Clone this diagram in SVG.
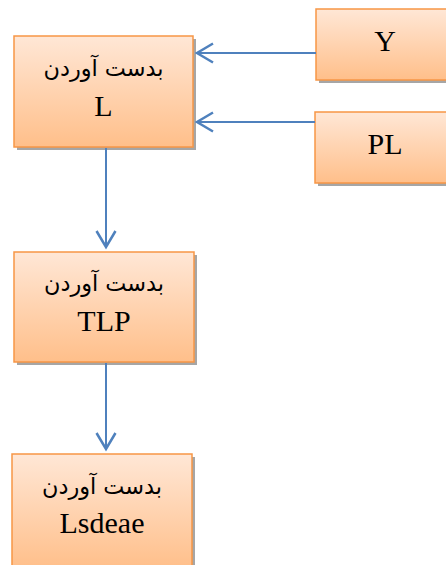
<svg xmlns="http://www.w3.org/2000/svg" width="446" height="565" viewBox="0 0 446 565">
  <style>
    .box { fill: url(#peach); stroke: #F79646; stroke-width: 1.5; }
    .shadow { fill: #A6A6A6; }
    .fa { font-family: "DejaVu Sans", "Noto Sans", sans-serif; font-size: 23px; fill: #000; text-anchor: middle; direction: rtl; }
    .en { font-family: "Liberation Serif", "DejaVu Serif", serif; font-size: 30px; fill: #000; text-anchor: middle; }
    .link { fill: none; stroke: #4F81BD; stroke-width: 2; }
  </style>
  <defs>
    <linearGradient id="peach" x1="0" y1="0" x2="0" y2="1">
      <stop offset="0" stop-color="#FFE7D6"/>
      <stop offset="1" stop-color="#FFBF8A"/>
    </linearGradient>
    <marker id="open" viewBox="0 0 20 22" refX="17.5" refY="11" markerWidth="20" markerHeight="22" markerUnits="userSpaceOnUse" orient="auto">
      <path d="M1.5 1.5 L17.5 11 L1.5 20.5" fill="none" stroke="#4F81BD" stroke-width="2.5"/>
    </marker>
  </defs>

  <g id="node-L">
    <rect class="shadow" x="17" y="39" width="179" height="111"/>
    <rect class="box" x="14" y="36" width="179" height="111"/>
    <text class="fa" x="103.5" y="76" textLength="120" lengthAdjust="spacingAndGlyphs">بدست آوردن</text>
    <text class="en" x="103.5" y="116">L</text>
  </g>

  <g id="node-Y">
    <rect class="shadow" x="319" y="12" width="140" height="71"/>
    <rect class="box" x="316" y="9" width="140" height="71"/>
    <text class="en" x="385" y="51">Y</text>
  </g>

  <g id="node-PL">
    <rect class="shadow" x="318" y="115" width="140" height="71"/>
    <rect class="box" x="315" y="112" width="140" height="71"/>
    <text class="en" x="385" y="154">PL</text>
  </g>

  <g id="node-TLP">
    <rect class="shadow" x="17" y="255" width="180" height="110"/>
    <rect class="box" x="14" y="252" width="180" height="110"/>
    <text class="fa" x="104" y="291" textLength="120" lengthAdjust="spacingAndGlyphs">بدست آوردن</text>
    <text class="en" x="104" y="331">TLP</text>
  </g>

  <g id="node-Lsdeae">
    <rect class="shadow" x="15" y="457" width="180" height="115"/>
    <rect class="box" x="12" y="454" width="180" height="115"/>
    <text class="fa" x="102" y="494" textLength="120" lengthAdjust="spacingAndGlyphs">بدست آوردن</text>
    <text class="en" x="102" y="533">Lsdeae</text>
  </g>

  <g id="connectors">
    <line class="link" x1="316" y1="53" x2="197" y2="53" marker-end="url(#open)"/>
    <line class="link" x1="315" y1="122" x2="197" y2="122" marker-end="url(#open)"/>
    <line class="link" x1="106" y1="148" x2="106" y2="247" marker-end="url(#open)"/>
    <line class="link" x1="106" y1="363" x2="106" y2="449" marker-end="url(#open)"/>
  </g>
</svg>
